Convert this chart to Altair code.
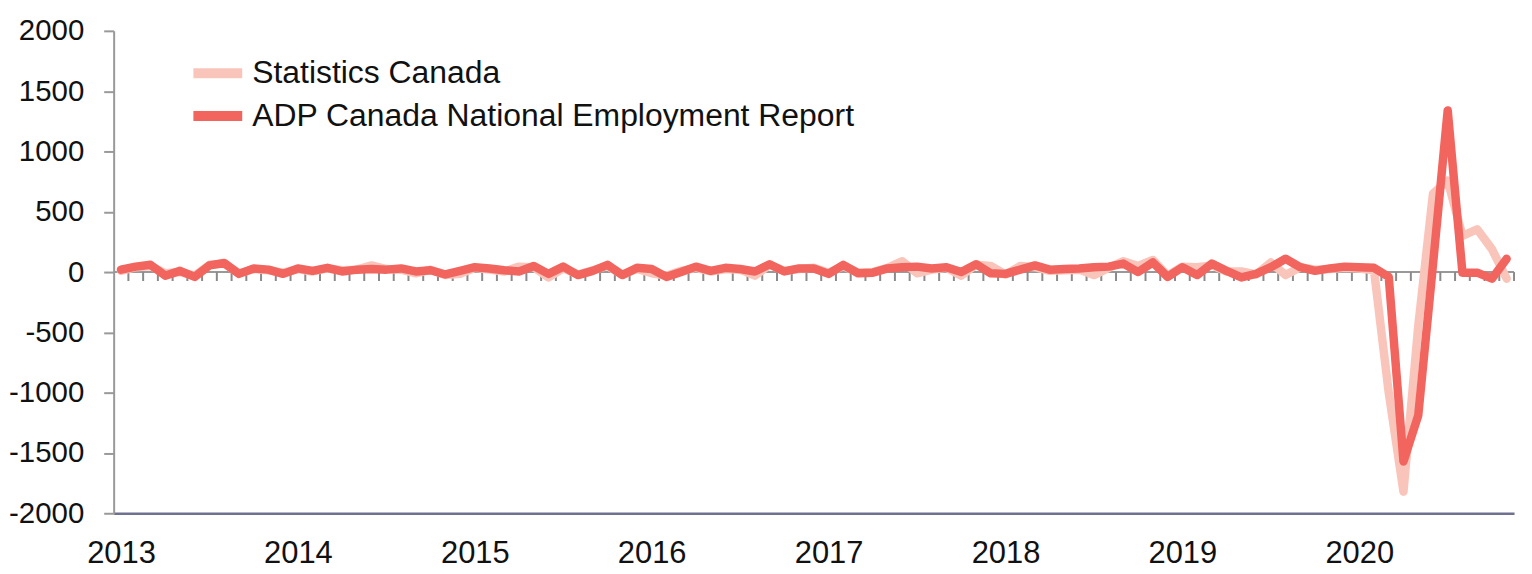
import altair as alt
import pandas as pd

years = ["2013", "2014", "2015", "2016", "2017", "2018", "2019", "2020"]
series_names = ["Statistics Canada", "ADP Canada National Employment Report"]
colors = ["#f9c5bb", "#f2645e"]

# monthly change (thousands), Jan 2013 - Nov 2020
statcan = [
    10, 40, 50, -10, 0, -30, 60, 70, -10, 25, 15, -5,
    25, 5, 30, 15, 20, 55, 25, 20, -10, 20, -25, -15,
    35, 20, 5, 45, 40, -45, 30, -20, 15, 50, -20, 25,
    -10, -30, 10, 35, 5, 25, 20, -30, 60, 10, 25, 35,
    -5, 50, -5, 0, 35, 90, -10, 20, 35, -30, 60, 50,
    -20, 50, 40, 10, 15, 20, -25, 35, 90, 50, 100, -30,
    45, 40, 55, 5, 5, -20, 80, -25, 40, 20, 25, 35,
    30, 15, -1000, -1820, -450, 650, 760, 300, 355, 190, -55,
]
adp = [
    20, 45, 60, -30, 10, -40, 55, 75, -15, 30, 20, -15,
    30, 10, 35, 5, 20, 25, 20, 30, 5, 15, -20, 10,
    40, 30, 15, 5, 50, -15, 45, -25, 10, 60, -25, 35,
    25, -40, 0, 45, 10, 35, 25, 5, 65, 5, 30, 30,
    -15, 60, -10, -5, 30, 40, 45, 30, 40, 0, 65, -10,
    -15, 20, 55, 20, 25, 30, 40, 45, 70, 0, 80, -40,
    40, -25, 70, 10, -45, -15, 40, 110, 40, 10, 30, 45,
    40, 35, -40, -1570, -1190, 60, 1340, -5, -5, -55, 110,
]
y_ticks = [-2000, -1500, -1000, -500, 0, 500, 1000, 1500, 2000]

n = len(adp)
rows = []
for name, vals in zip(series_names, [statcan, adp]):
    for i, v in enumerate(vals):
        rows.append({"series": name, "m": i + 0.5, "value": v})
df = pd.DataFrame(rows)
ticks_df = pd.DataFrame({"b": list(range(1, n + 1))})
zero_df = pd.DataFrame({"z": [0]})

FONT = "Liberation Sans"
x_scale = alt.Scale(domain=[0, n], nice=False, zero=False)
y_scale = alt.Scale(domain=[-2000, 2000], nice=False)

label_expr = "[" + ",".join(f"'{y}'" for y in years) + "][floor(datum.value / 12)]"
x_axis = alt.Axis(
    values=[12 * k + 0.5 for k in range(len(years))],
    labelExpr=label_expr, ticks=False, grid=False,
    domainColor="#6e718f", domainWidth=2.5,
    labelFontSize=31, labelFont=FONT, labelColor="#111",
    labelPadding=25, title=None, labelFlush=False, labelOverlap=False,
)
y_axis = alt.Axis(
    values=y_ticks, grid=False, tickSize=10, tickColor="#999", tickWidth=2,
    domainColor="#999", domainWidth=2, labelFontSize=29.5, labelFont=FONT,
    labelColor="#111", labelPadding=20, title=None,
    labelExpr="'' + datum.value",
)

color = alt.Color(
    "series:N",
    scale=alt.Scale(domain=series_names, range=colors),
    legend=alt.Legend(
        orient="none", legendX=82, legendY=20, title=None,
        symbolType="M-1.4,0H1.4", symbolSize=1225, symbolStrokeWidth=10,
        labelFontSize=32, labelFont=FONT, labelColor="#111", labelLimit=0,
        rowPadding=0, labelOffset=12, padding=0,
    ),
)

zero_line = alt.Chart(zero_df).mark_rule(color="#999", strokeWidth=2).encode(
    y=alt.Y("z:Q", scale=y_scale, axis=y_axis)
)
month_ticks = alt.Chart(ticks_df).mark_rule(
    color="#8a8a8a", strokeWidth=2, y2Offset=9
).encode(
    x=alt.X("b:Q", scale=x_scale, axis=x_axis),
    y=alt.datum(0),
    y2=alt.datum(0),
)

def line_layer(name):
    return alt.Chart(df).transform_filter(
        alt.datum.series == name
    ).mark_line(strokeWidth=8.5, strokeCap="round", strokeJoin="round").encode(
        x=alt.X("m:Q", scale=x_scale, axis=x_axis),
        y=alt.Y("value:Q", scale=y_scale, axis=y_axis),
        color=color,
    )

chart = alt.layer(
    zero_line, month_ticks, line_layer(series_names[0]), line_layer(series_names[1])
).properties(
    width=1405, height=484,
    autosize=alt.AutoSizeParams(type="none"),
    padding={"left": 106, "top": 22, "right": 10, "bottom": 58},
).configure_view(stroke=None)

chart.save("out.html", embed_options={"renderer": "svg", "actions": False})
